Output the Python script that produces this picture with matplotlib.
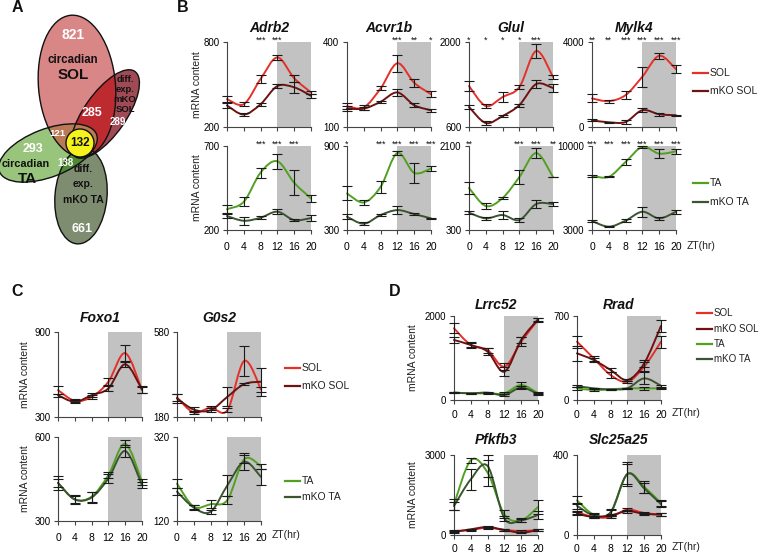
import numpy as np
import matplotlib
matplotlib.use("Agg")
import matplotlib.pyplot as plt
from matplotlib.path import Path
from matplotlib.patches import PathPatch, Ellipse, Circle
from matplotlib.lines import Line2D

plt.rcParams['font.family'] = ['Liberation Sans', 'DejaVu Sans']

W, H = 762, 556
zt = [0, 4, 8, 12, 16, 20]
xticks = [0, 4, 8, 12, 16, 20]

# ---------------- DATA ----------------
# Panel B
adrb2_sol = [397, 361, 539, 691, 544, 444]
adrb2_sol_err = [20, 15, 25, 20, 25, 12]
adrb2_mko_sol = [352, 288, 361, 489, 480, 420]
adrb2_mko_sol_err = [15, 8, 10, 15, 40, 15]
adrb2_ta = [324, 368, 542, 609, 481, 388]
adrb2_ta_err = [25, 28, 30, 45, 75, 22]
adrb2_mko_ta = [283, 255, 273, 309, 259, 271]
adrb2_mko_ta_err = [10, 25, 10, 15, 5, 20]

acvr1b_sol = [173, 169, 236, 325, 256, 216]
acvr1b_sol_err = [10, 8, 7, 30, 15, 10]
acvr1b_mko_sol = [165, 165, 189, 222, 177, 159]
acvr1b_mko_sol_err = [10, 5, 4, 12, 8, 5]
acvr1b_ta = [561, 497, 608, 850, 708, 739]
acvr1b_ta_err = [50, 15, 45, 15, 70, 20]
acvr1b_mko_ta = [395, 345, 407, 442, 414, 383]
acvr1b_mko_ta_err = [20, 10, 5, 30, 5, 3]

glul_sol = [1275, 946, 1094, 1259, 1852, 1424]
glul_sol_err = [80, 25, 80, 30, 120, 40]
glul_mko_sol = [929, 666, 781, 962, 1308, 1242]
glul_mko_sol_err = [30, 30, 20, 25, 70, 60]
glul_ta = [1200, 814, 986, 1436, 1950, 1436]
glul_ta_err = [120, 60, 30, 150, 100, 10]
glul_mko_ta = [671, 550, 621, 514, 857, 857]
glul_mko_ta_err = [30, 30, 90, 50, 90, 40]

mylk4_sol = [1344, 1217, 1502, 2372, 3352, 2719]
mylk4_sol_err = [190, 70, 200, 470, 150, 200]
mylk4_mko_sol = [316, 221, 237, 790, 600, 553]
mylk4_mko_sol_err = [40, 30, 80, 100, 60, 20]
mylk4_ta = [7510, 7427, 8672, 9917, 9364, 9557]
mylk4_ta_err = [100, 50, 250, 50, 400, 200]
mylk4_mko_ta = [3747, 3277, 3775, 4522, 3968, 4522]
mylk4_mko_ta_err = [100, 50, 100, 400, 150, 150]

stars_adrb2_top = ['', '', '***', '***', '', '']
stars_adrb2_bot = ['', '', '***', '***', '***', '']
stars_acvr1b_top = ['', '', '', '***', '**', '*']
stars_acvr1b_bot = ['*', '', '***', '***', '***', '***']
stars_glul_top = ['*', '*', '*', '*', '***', '']
stars_glul_bot = ['**', '', '', '***', '***', '**']
stars_mylk4_top = ['**', '**', '***', '***', '***', '***']
stars_mylk4_bot = ['***', '***', '***', '***', '***', '***']

# Panel C
foxo1_sol = [490, 414, 442, 549, 751, 490]
foxo1_sol_err = [30, 10, 15, 25, 60, 20]
foxo1_mko_sol = [454, 407, 454, 502, 672, 494]
foxo1_mko_sol_err = [10, 10, 15, 15, 20, 25]
foxo1_ta = [436, 377, 387, 464, 576, 440]
foxo1_ta_err = [15, 12, 18, 12, 12, 10]
foxo1_mko_ta = [436, 377, 384, 452, 550, 428]
foxo1_mko_ta_err = [25, 15, 20, 15, 20, 10]

g0s2_sol = [272, 201, 224, 212, 444, 310]
g0s2_sol_err = [15, 8, 10, 10, 70, 10]
g0s2_mko_sol = [267, 215, 212, 275, 335, 346]
g0s2_mko_sol_err = [20, 10, 10, 45, 5, 65]
g0s2_ta = [209, 154, 160, 170, 267, 250]
g0s2_ta_err = [10, 5, 10, 10, 10, 5]
g0s2_mko_ta = [190, 152, 142, 205, 261, 225]
g0s2_mko_ta_err = [8, 5, 5, 25, 20, 20]

# Panel D
lrrc52_sol = [1706, 1310, 1190, 794, 1389, 1905]
lrrc52_sol_err = [120, 50, 60, 80, 100, 40]
lrrc52_mko_sol = [1429, 1310, 1151, 675, 1429, 1921]
lrrc52_mko_sol_err = [60, 60, 80, 100, 80, 40]
lrrc52_ta = [175, 159, 159, 159, 357, 159]
lrrc52_ta_err = [20, 15, 15, 20, 60, 20]
lrrc52_mko_ta = [175, 159, 175, 119, 294, 143]
lrrc52_mko_ta_err = [15, 15, 15, 20, 40, 15]

rrad_sol = [486, 347, 208, 153, 278, 486]
rrad_sol_err = [50, 20, 25, 8, 40, 50]
rrad_mko_sol = [389, 333, 250, 167, 306, 617]
rrad_mko_sol_err = [60, 15, 20, 10, 30, 50]
rrad_ta = [97, 83, 89, 97, 97, 97]
rrad_ta_err = [10, 5, 5, 5, 10, 5]
rrad_mko_ta = [117, 97, 89, 97, 180, 119]
rrad_mko_ta_err = [10, 5, 5, 5, 50, 10]

pfkfb3_sol = [150, 188, 275, 188, 150, 188]
pfkfb3_sol_err = [30, 30, 40, 30, 20, 30]
pfkfb3_mko_sol = [113, 213, 300, 188, 88, 188]
pfkfb3_mko_sol_err = [30, 30, 40, 30, 20, 30]
pfkfb3_ta = [1150, 2800, 2338, 775, 550, 1050]
pfkfb3_ta_err = [200, 100, 490, 150, 80, 250]
pfkfb3_mko_ta = [1088, 2088, 2588, 625, 550, 750]
pfkfb3_mko_ta_err = [150, 400, 400, 100, 50, 150]

slc25a25_sol = [114, 90, 90, 127, 110, 102]
slc25a25_sol_err = [8, 5, 5, 8, 6, 6]
slc25a25_mko_sol = [106, 90, 98, 119, 106, 102]
slc25a25_mko_sol_err = [8, 5, 5, 8, 6, 6]
slc25a25_ta = [173, 102, 111, 305, 241, 159]
slc25a25_ta_err = [20, 8, 15, 60, 30, 15]
slc25a25_mko_ta = [146, 98, 114, 305, 233, 154]
slc25a25_mko_ta_err = [15, 8, 15, 50, 25, 15]

# Venn counts
venn_counts = {'sol': '821', 'sol_mko': '285', 'mko_sol': '289', 'sol_ta': '121',
               'center': '132', 'ta': '293', 'ta_mko': '138', 'mko_ta': '661'}

# ---------------- STYLE ----------------
C_SOL = '#e5302a'
C_MKO_SOL = '#6e1212'
C_TA = '#52a022'
C_MKO_TA = '#3a5530'
SHADE = '#c2c2c2'

fig = plt.figure(figsize=(W / 100, H / 100), dpi=100)


def px_axes(x0, y0, x1, y1, **kw):
    return fig.add_axes([x0 / W, 1 - y1 / H, (x1 - x0) / W, (y1 - y0) / H], **kw)


def smooth_path(xs, ys):
    P = np.column_stack([xs, ys]).astype(float)
    n = len(P)
    verts = [P[0]]
    codes = [Path.MOVETO]
    for i in range(n - 1):
        p0 = P[i - 1] if i > 0 else P[i]
        p1 = P[i]
        p2 = P[i + 1]
        p3 = P[i + 2] if i + 2 < n else P[i + 1]
        c1 = p1 + (p2 - p0) / 6.0
        c2 = p2 - (p3 - p1) / 6.0
        verts += [c1, c2, p2]
        codes += [Path.CURVE4] * 3
    return Path(np.array(verts), codes)


def draw_series(ax, ys, err, color, lw=1.4):
    pp = PathPatch(smooth_path(zt, ys), fill=False, edgecolor=color, lw=lw,
                   zorder=3, clip_on=False, capstyle='round')
    ax.add_patch(pp)
    cont = ax.errorbar(zt, ys, yerr=err, fmt='none', ecolor='#1a1a1a',
                       elinewidth=0.8, capsize=3.6, capthick=0.8, zorder=4)
    for art in cont.get_children():
        art.set_clip_on(False)


def style_ax(ax, ylim, xlabels=True, xpad=5.5):
    ax.set_xlim(0, 20)
    ax.set_ylim(*ylim)
    ax.axvspan(12, 20, color=SHADE, lw=0, zorder=0)
    for s in ['top', 'right']:
        ax.spines[s].set_visible(False)
    for s in ['left', 'bottom']:
        ax.spines[s].set_color('#444444')
        ax.spines[s].set_linewidth(0.8)
    ax.set_xticks(xticks)
    ax.set_yticks(list(ylim))
    ax.set_yticklabels([str(v) for v in ylim])
    ax.tick_params(axis='x', length=3, width=0.8, color='#444444',
                   labelsize=7.5, pad=xpad, labelbottom=xlabels)
    ax.tick_params(axis='y', length=3, width=0.8, color='#444444',
                   labelsize=7, pad=2.5)
    ax.patch.set_alpha(0)


def add_stars(ax, stars):
    for x, s in zip(zt, stars):
        if s:
            ax.annotate(s, xy=(x, 1.0), xycoords=('data', 'axes fraction'),
                        xytext=(0, -0.5), textcoords='offset points',
                        ha='center', va='baseline', fontsize=6.5, color='#111111',
                        annotation_clip=False)


def panel(box, ylim, series, xlabels=True, stars=None, xpad=5.5):
    ax = px_axes(*box)
    style_ax(ax, ylim, xlabels, xpad)
    for ys, err, col in series:
        draw_series(ax, ys, err, col)
    if stars is not None:
        add_stars(ax, stars)
    return ax


# ---------------- Panel B ----------------
bw = 84
bx = [227, 347, 469, 592]
btop = (42, 127)
bbot = (146, 230)

b_genes = [
    ('Adrb2', (200, 800), (200, 700),
     [(adrb2_sol, adrb2_sol_err, C_SOL), (adrb2_mko_sol, adrb2_mko_sol_err, C_MKO_SOL)],
     [(adrb2_ta, adrb2_ta_err, C_TA), (adrb2_mko_ta, adrb2_mko_ta_err, C_MKO_TA)],
     stars_adrb2_top, stars_adrb2_bot),
    ('Acvr1b', (100, 400), (300, 900),
     [(acvr1b_sol, acvr1b_sol_err, C_SOL), (acvr1b_mko_sol, acvr1b_mko_sol_err, C_MKO_SOL)],
     [(acvr1b_ta, acvr1b_ta_err, C_TA), (acvr1b_mko_ta, acvr1b_mko_ta_err, C_MKO_TA)],
     stars_acvr1b_top, stars_acvr1b_bot),
    ('Glul', (600, 2000), (300, 2100),
     [(glul_sol, glul_sol_err, C_SOL), (glul_mko_sol, glul_mko_sol_err, C_MKO_SOL)],
     [(glul_ta, glul_ta_err, C_TA), (glul_mko_ta, glul_mko_ta_err, C_MKO_TA)],
     stars_glul_top, stars_glul_bot),
    ('Mylk4', (0, 4000), (3000, 10000),
     [(mylk4_sol, mylk4_sol_err, C_SOL), (mylk4_mko_sol, mylk4_mko_sol_err, C_MKO_SOL)],
     [(mylk4_ta, mylk4_ta_err, C_TA), (mylk4_mko_ta, mylk4_mko_ta_err, C_MKO_TA)],
     stars_mylk4_top, stars_mylk4_bot),
]

# overlay axes in pixel coordinates for texts, legends and Venn
ov = fig.add_axes([0, 0, 1, 1], zorder=10)
ov.set_xlim(0, W)
ov.set_ylim(H, 0)
ov.axis('off')
ov.patch.set_alpha(0)


def title(x, y, s):
    ov.text(x, y, s, ha='center', va='center', fontsize=10, fontweight='bold',
            fontstyle='italic', color='#111111')


def ylabel(x, yc):
    ov.text(x, yc, 'mRNA content', rotation=90, ha='center', va='center',
            fontsize=7.5, color='#222222')


def legend(x, ys, labels, colors, size=7.5):
    for y, lab, col in zip(ys, labels, colors):
        ov.add_line(Line2D([x, x + 15], [y, y], color=col, lw=1.6))
        ov.text(x + 17, y, lab, ha='left', va='center', fontsize=size, color='#222222')


def zt_label(x, y):
    ov.text(x, y, 'ZT(hr)', ha='left', va='center', fontsize=7.5, color='#222222')


for i, (name, ylt, ylb, ser_t, ser_b, st_t, st_b) in enumerate(b_genes):
    x0 = bx[i]
    panel((x0, btop[0], x0 + bw, btop[1]), ylt, ser_t, xlabels=False, stars=st_t)
    panel((x0, bbot[0], x0 + bw, bbot[1]), ylb, ser_b, xlabels=True, stars=st_b)
    title(x0 + bw / 2, 28, name)

ylabel(197, 85)
ylabel(197, 188)
legend(693, [73, 91], ['SOL', 'mKO SOL'], [C_SOL, C_MKO_SOL])
legend(693, [183, 202], ['TA', 'mKO TA'], [C_TA, C_MKO_TA])
zt_label(687, 246)

# ---------------- Panel C ----------------
cx = [58, 177]
ctop = (332, 417)
cbot = (437, 521)
panel((cx[0], ctop[0], cx[0] + bw, ctop[1]), (300, 900),
      [(foxo1_sol, foxo1_sol_err, C_SOL), (foxo1_mko_sol, foxo1_mko_sol_err, C_MKO_SOL)],
      xlabels=False)
panel((cx[1], ctop[0], cx[1] + bw, ctop[1]), (180, 580),
      [(g0s2_sol, g0s2_sol_err, C_SOL), (g0s2_mko_sol, g0s2_mko_sol_err, C_MKO_SOL)],
      xlabels=False)
panel((cx[0], cbot[0], cx[0] + bw, cbot[1]), (300, 600),
      [(foxo1_ta, foxo1_ta_err, C_TA), (foxo1_mko_ta, foxo1_mko_ta_err, C_MKO_TA)])
panel((cx[1], cbot[0], cx[1] + bw, cbot[1]), (120, 320),
      [(g0s2_ta, g0s2_ta_err, C_TA), (g0s2_mko_ta, g0s2_mko_ta_err, C_MKO_TA)])
title(cx[0] + bw / 2, 318, 'Foxo1')
title(cx[1] + bw / 2, 318, 'G0s2')
ylabel(25, 375)
ylabel(25, 479)
legend(285, [368, 386], ['SOL', 'mKO SOL'], [C_SOL, C_MKO_SOL])
legend(285, [481, 497], ['TA', 'mKO TA'], [C_TA, C_MKO_TA])
zt_label(272, 535)

# ---------------- Panel D ----------------
dx = [454, 577]
dtop = (316, 400)
dbot = (455, 535)


def four(a, ae, b, be, c, ce, d, de):
    return [(c, ce, C_TA), (d, de, C_MKO_TA), (a, ae, C_SOL), (b, be, C_MKO_SOL)]


panel((dx[0], dtop[0], dx[0] + bw, dtop[1]), (0, 2000),
      four(lrrc52_sol, lrrc52_sol_err, lrrc52_mko_sol, lrrc52_mko_sol_err,
           lrrc52_ta, lrrc52_ta_err, lrrc52_mko_ta, lrrc52_mko_ta_err), xpad=4.5)
panel((dx[1], dtop[0], dx[1] + bw, dtop[1]), (0, 700),
      four(rrad_sol, rrad_sol_err, rrad_mko_sol, rrad_mko_sol_err,
           rrad_ta, rrad_ta_err, rrad_mko_ta, rrad_mko_ta_err), xpad=4.5)
panel((dx[0], dbot[0], dx[0] + bw, dbot[1]), (0, 3000),
      four(pfkfb3_sol, pfkfb3_sol_err, pfkfb3_mko_sol, pfkfb3_mko_sol_err,
           pfkfb3_ta, pfkfb3_ta_err, pfkfb3_mko_ta, pfkfb3_mko_ta_err), xpad=3.5)
panel((dx[1], dbot[0], dx[1] + bw, dbot[1]), (0, 400),
      four(slc25a25_sol, slc25a25_sol_err, slc25a25_mko_sol, slc25a25_mko_sol_err,
           slc25a25_ta, slc25a25_ta_err, slc25a25_mko_ta, slc25a25_mko_ta_err), xpad=3.5)
title(dx[0] + bw / 2, 305, 'Lrrc52')
title(dx[1] + bw / 2, 305, 'Rrad')
title(dx[0] + bw / 2, 440, 'Pfkfb3')
title(dx[1] + bw / 2, 440, 'Slc25a25')
ylabel(413, 358)
ylabel(413, 495)
legend(697, [313, 329, 344, 359], ['SOL', 'mKO SOL', 'TA', 'mKO TA'],
       [C_SOL, C_MKO_SOL, C_TA, C_MKO_TA], size=7.0)
zt_label(672, 413)
zt_label(672, 547)

# ---------------- Panel A (Venn) ----------------
def ell(xy, w, h, ang):
    return Ellipse(xy, w, h, angle=ang)


E_sol = ((77, 86), 77, 142, -5)
E_msol = ((105, 114), 104, 42, -55)
E_ta = ((48, 153), 104, 48, -21)
E_mta = ((81, 196), 52, 96, 5)


def fill(spec, color, clip=None, z=1):
    p = ell(*spec)
    p.set_facecolor(color)
    p.set_edgecolor('none')
    p.set_zorder(z)
    ov.add_patch(p)
    if clip is not None:
        c = ell(*clip)
        c.set_transform(ov.transData)
        p.set_clip_path(c)
    return p


fill(E_sol, '#d98686', z=1)
fill(E_msol, '#a04a56', z=2)
fill(E_msol, '#bd2a30', clip=E_sol, z=3)
fill(E_ta, '#98c47c', z=4)
fill(E_ta, '#b97a55', clip=E_sol, z=5)
fill(E_mta, '#7e8c6f', z=6)
fill(E_mta, '#4f8a33', clip=E_ta, z=7)
for spec in [E_sol, E_msol, E_ta, E_mta]:
    p = ell(*spec)
    p.set_facecolor('none')
    p.set_edgecolor('#111111')
    p.set_linewidth(1.0)
    p.set_zorder(8)
    ov.add_patch(p)
ov.add_patch(Circle((80, 143), 14, facecolor='#f6f21c', edgecolor='#111111',
                    lw=1.0, zorder=9))


def vt(x, y, s, size, color='white', bold=True):
    ov.text(x, y, s, ha='center', va='center', fontsize=size, color=color,
            fontweight='bold' if bold else 'normal', zorder=12)


vt(73, 35, venn_counts['sol'], 10)
vt(73, 60, 'circadian', 8.3, '#111111')
vt(73, 75, 'SOL', 11, '#111111')
vt(125, 79, 'diff.', 6.8, '#111111')
vt(125, 89, 'exp.', 6.8, '#111111')
vt(125, 99, 'mKO', 6.8, '#111111')
vt(125, 109, 'SOL', 6.8, '#111111')
vt(92, 113, venn_counts['sol_mko'], 9)
vt(118, 122, venn_counts['mko_sol'], 7)
vt(57, 133, venn_counts['sol_ta'], 6.8)
vt(80, 143, venn_counts['center'], 8.5, '#111111')
vt(33, 149, venn_counts['ta'], 9)
vt(26, 164, 'circadian', 7.8, '#111111')
vt(27, 179, 'TA', 11, '#111111')
vt(66, 163, venn_counts['ta_mko'], 7)
vt(83, 169, 'diff.', 7.5, '#111111')
vt(83, 184, 'exp.', 7.5, '#111111')
vt(83, 200, 'mKO TA', 7.5, '#111111')
vt(82, 229, venn_counts['mko_ta'], 9)

# panel letters
for s, x, y in [('A', 17, 8), ('B', 183, 8), ('C', 17, 292), ('D', 395, 292)]:
    ov.text(x, y, s, ha='center', va='center', fontsize=11.5, fontweight='bold',
            color='#111111')

fig.savefig('out.png', dpi=100)
